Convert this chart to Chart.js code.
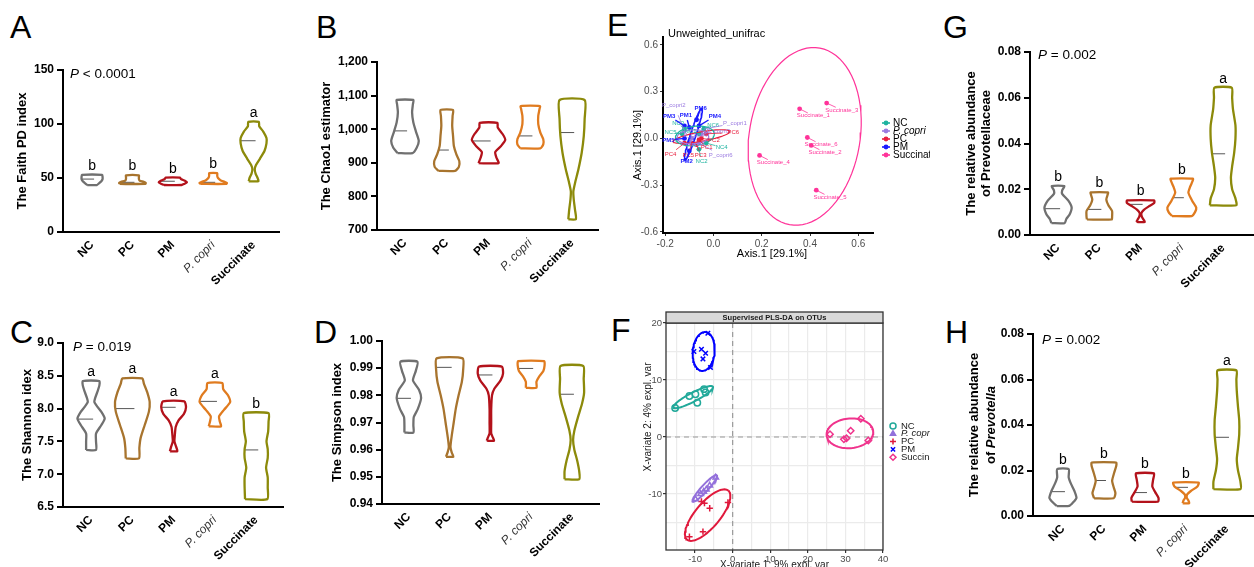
<!DOCTYPE html>
<html>
<head>
<meta charset="utf-8">
<script src="https://cdn.jsdelivr.net/npm/chart.js@4.4.0/dist/chart.umd.min.js"></script>
<style>
  body { margin: 0; background: #fff; width: 1254px; height: 567px; position: relative; overflow: hidden;
         font-family: 'Liberation Sans', Arial, sans-serif; }
  canvas { position: absolute; }
  .tag { position: absolute; font-size: 32px; line-height: 32px; color: #000; }
</style>
</head>
<body>
<div class="tag" style="left:10px;top:11px">A</div>
<div class="tag" style="left:316px;top:11px">B</div>
<div class="tag" style="left:607px;top:9px">E</div>
<div class="tag" style="left:943px;top:11px">G</div>
<div class="tag" style="left:10px;top:316px">C</div>
<div class="tag" style="left:314px;top:316px">D</div>
<div class="tag" style="left:611px;top:314px">F</div>
<div class="tag" style="left:945px;top:316px">H</div>

<canvas id="cA" width="300" height="290" style="left:0;top:0"></canvas>
<canvas id="cB" width="300" height="290" style="left:300px;top:0"></canvas>
<canvas id="cE" width="330" height="290" style="left:600px;top:0"></canvas>
<canvas id="cG" width="324" height="290" style="left:930px;top:0"></canvas>
<canvas id="cC" width="300" height="277" style="left:0;top:290px"></canvas>
<canvas id="cD" width="300" height="277" style="left:300px;top:290px"></canvas>
<canvas id="cF" width="330" height="277" style="left:600px;top:290px"></canvas>
<canvas id="cH" width="324" height="277" style="left:930px;top:290px"></canvas>

<script>
// ---- violin panels: groups, colours, profiles [value, half width in category units] ----
const groups = ['NC', 'PC', 'PM', 'P. copri', 'Succinate'];
const groupColors = ['#707070', '#a8742e', '#b3121b', '#e07b1f', '#8c8a0a'];

const faithTicks = [0, 50, 100, 150];
const faithTickLabels = ['0', '50', '100', '150'];
const faithNC = [[43.5, 0.12], [45, 0.17], [47, 0.23], [49, 0.26], [51, 0.26], [52.8, 0.25]];
const faithPC = [[44.5, 0.32], [45.5, 0.33], [46.5, 0.28], [47.5, 0.18], [49, 0.16], [51, 0.16], [52.5, 0.16]];
const faithPM = [[43.5, 0.22], [44.5, 0.28], [46, 0.35], [47.5, 0.3], [49, 0.2], [50.3, 0.18]];
const faithCopri = [[44.5, 0.32], [45.5, 0.34], [46.5, 0.28], [48, 0.18], [50, 0.12], [52, 0.1], [54.5, 0.1]];
const faithSucc = [[47, 0.12], [50, 0.1], [54, 0.05], [58, 0.03], [62, 0.06], [68, 0.16], [75, 0.27], [82, 0.32], [87, 0.32], [93, 0.24], [98, 0.14], [102, 0.13]];
const faithMedians = [49, 46, 47, 46, 84.5];
const faithLetters = ['b', 'b', 'b', 'b', 'a'];

const chaoTicks = [700, 800, 900, 1000, 1100, 1200];
const chaoTickLabels = ['700', '800', '900', '1,000', '1,100', '1,200'];
const chaoNC = [[929, 0.18], [945, 0.28], [965, 0.33], [990, 0.27], [1020, 0.2], [1050, 0.17], [1075, 0.19], [1087, 0.2]];
const chaoPC = [[876, 0.2], [888, 0.29], [905, 0.3], [925, 0.23], [950, 0.17], [980, 0.15], [1010, 0.13], [1040, 0.14], [1057, 0.15]];
const chaoPM = [[899, 0.24], [915, 0.19], [932, 0.16], [950, 0.3], [968, 0.4], [985, 0.34], [1005, 0.22], [1019, 0.21]];
const chaoCopri = [[943, 0.24], [955, 0.31], [970, 0.31], [990, 0.24], [1015, 0.19], [1040, 0.19], [1060, 0.22], [1069, 0.23]];
const chaoSucc = [[732, 0.09], [760, 0.07], [790, 0.04], [815, 0.03], [845, 0.08], [880, 0.15], [930, 0.23], [980, 0.28], [1030, 0.3], [1087, 0.3]];
const chaoMedians = [995, 938, 965, 980, 990];

const shannonTicks = [6.5, 7.0, 7.5, 8.0, 8.5, 9.0];
const shannonTickLabels = ['6.5', '7.0', '7.5', '8.0', '8.5', '9.0'];
const shannonNC = [[7.37, 0.12], [7.5, 0.12], [7.62, 0.12], [7.75, 0.25], [7.85, 0.33], [7.95, 0.25], [8.1, 0.08], [8.25, 0.15], [8.35, 0.2], [8.42, 0.2]];
const shannonPC = [[7.24, 0.16], [7.4, 0.17], [7.55, 0.2], [7.75, 0.3], [7.95, 0.4], [8.1, 0.42], [8.25, 0.36], [8.38, 0.28], [8.46, 0.24]];
const shannonPM = [[7.35, 0.09], [7.42, 0.06], [7.5, 0.02], [7.6, 0.03], [7.72, 0.05], [7.82, 0.12], [7.92, 0.25], [8.02, 0.3], [8.11, 0.26]];
const shannonCopri = [[7.73, 0.15], [7.8, 0.12], [7.88, 0.1], [7.98, 0.22], [8.1, 0.37], [8.2, 0.32], [8.3, 0.2], [8.39, 0.18]];
const shannonSucc = [[6.62, 0.27], [6.8, 0.28], [6.95, 0.28], [7.1, 0.24], [7.25, 0.28], [7.38, 0.28], [7.5, 0.25], [7.65, 0.29], [7.8, 0.3], [7.93, 0.3]];
const shannonMedians = [7.84, 8.0, 8.02, 8.11, 7.37];
const shannonLetters = ['a', 'a', 'a', 'a', 'b'];

const simpsonTicks = [0.94, 0.95, 0.96, 0.97, 0.98, 0.99, 1.0];
const simpsonTickLabels = ['0.94', '0.95', '0.96', '0.97', '0.98', '0.99', '1.00'];
const simpsonNC = [[0.9663, 0.11], [0.969, 0.11], [0.972, 0.12], [0.975, 0.22], [0.979, 0.3], [0.982, 0.25], [0.9855, 0.1], [0.989, 0.17], [0.9924, 0.21]];
const simpsonPC = [[0.9574, 0.09], [0.959, 0.05], [0.961, 0.02], [0.965, 0.05], [0.97, 0.1], [0.975, 0.15], [0.98, 0.22], [0.985, 0.3], [0.989, 0.33], [0.9936, 0.32]];
const simpsonPM = [[0.9633, 0.09], [0.9645, 0.06], [0.966, 0.02], [0.97, 0.02], [0.975, 0.02], [0.98, 0.04], [0.9825, 0.1], [0.9855, 0.25], [0.988, 0.31], [0.9906, 0.28]];
const simpsonCopri = [[0.9828, 0.13], [0.985, 0.13], [0.987, 0.2], [0.989, 0.3], [0.991, 0.33], [0.9926, 0.32]];
const simpsonSucc = [[0.9491, 0.18], [0.952, 0.18], [0.956, 0.13], [0.96, 0.06], [0.9636, 0.03], [0.967, 0.06], [0.972, 0.15], [0.977, 0.25], [0.981, 0.3], [0.986, 0.29], [0.9908, 0.28]];
const simpsonMedians = [0.9789, 0.9903, 0.9875, 0.9899, 0.9804];

const abundTicks = [0, 0.02, 0.04, 0.06, 0.08];
const abundTickLabels = ['0.00', '0.02', '0.04', '0.06', '0.08'];
const prevotellaceaeNC = [[0.0052, 0.16], [0.007, 0.2], [0.009, 0.28], [0.012, 0.33], [0.015, 0.25], [0.018, 0.1], [0.0195, 0.1], [0.0214, 0.15]];
const prevotellaceaePC = [[0.0068, 0.3], [0.008, 0.31], [0.0105, 0.31], [0.013, 0.22], [0.0155, 0.17], [0.0175, 0.2], [0.0186, 0.21]];
const prevotellaceaePM = [[0.0057, 0.1], [0.0068, 0.07], [0.008, 0.03], [0.0095, 0.02], [0.011, 0.08], [0.0125, 0.2], [0.014, 0.33], [0.0151, 0.33]];
const prevotellaceaeCopri = [[0.0083, 0.24], [0.01, 0.32], [0.012, 0.35], [0.015, 0.25], [0.0185, 0.16], [0.021, 0.2], [0.0235, 0.26], [0.0246, 0.27]];
const prevotellaceaeSucc = [[0.013, 0.32], [0.016, 0.3], [0.02, 0.22], [0.025, 0.19], [0.03, 0.22], [0.036, 0.27], [0.042, 0.3], [0.048, 0.3], [0.055, 0.24], [0.06, 0.22], [0.0644, 0.21]];
const prevotellaceaeMedians = [0.0115, 0.0112, 0.0134, 0.0163, 0.0355];

const prevotellaNC = [[0.0044, 0.15], [0.006, 0.25], [0.008, 0.33], [0.011, 0.28], [0.014, 0.2], [0.017, 0.14], [0.0206, 0.14]];
const prevotellaPC = [[0.0078, 0.24], [0.01, 0.28], [0.0125, 0.24], [0.0155, 0.2], [0.019, 0.25], [0.022, 0.3], [0.0235, 0.3]];
const prevotellaPM = [[0.0063, 0.32], [0.008, 0.33], [0.0105, 0.25], [0.013, 0.18], [0.016, 0.2], [0.0187, 0.22]];
const prevotellaCopri = [[0.0056, 0.08], [0.0068, 0.06], [0.008, 0.02], [0.0095, 0.03], [0.011, 0.12], [0.013, 0.28], [0.0147, 0.31]];
const prevotellaSucc = [[0.0118, 0.33], [0.015, 0.33], [0.02, 0.27], [0.025, 0.24], [0.03, 0.27], [0.036, 0.3], [0.042, 0.3], [0.048, 0.27], [0.055, 0.24], [0.06, 0.23], [0.064, 0.23]];
const prevotellaMedians = [0.0107, 0.0156, 0.0103, 0.0126, 0.0346];

// ---- PCoA (E) ----
const eGroups = ['NC', 'P. copri', 'PC', 'PM', 'Succinate'];
const eColors = ['#1fb3a0', '#9b7be0', '#e8203f', '#1a1aff', '#ff3399'];
const eXTicks = [-0.2, 0, 0.2, 0.4, 0.6];
const eYTicks = [-0.6, -0.3, 0, 0.3, 0.6];
const eNC = [[-0.06, 0.03], [-0.06, -0.07], [-0.12, 0.06], [-0.03, -0.03], [-0.13, 0.03], [-0.04, 0.06]];
const ePcopri = [[-0.04, 0.06], [-0.12, 0.05], [-0.05, 0.03], [-0.09, 0.0], [-0.1, -0.02], [-0.06, -0.03]];
const ePC = [[-0.06, -0.01], [-0.05, 0.0], [-0.07, -0.04], [-0.12, -0.03], [-0.09, -0.03], [-0.03, 0.03]];
const ePM = [[-0.1, 0.07], [-0.1, -0.08], [-0.12, 0.08], [-0.06, 0.08], [-0.12, 0.0], [-0.07, 0.12]];
const eSucc = [[0.357, 0.19], [0.405, -0.045], [0.469, 0.227], [0.191, -0.109], [0.426, -0.332], [0.389, 0.006]];
const eNCNames = ['NC1', 'NC2', 'NC3', 'NC4', 'NC5', 'NC6'];
const ePcopriNames = ['P_copri1', 'P_copri2', 'P_copri3', 'P_copri4', 'P_copri5', 'P_copri6'];
const ePCNames = ['PC1', 'PC2', 'PC3', 'PC4', 'PC5', 'PC6'];
const ePMNames = ['PM1', 'PM2', 'PM3', 'PM4', 'PM5', 'PM6'];
const eSuccNames = ['Succinate_1', 'Succinate_2', 'Succinate_3', 'Succinate_4', 'Succinate_5', 'Succinate_6'];
// where the repelled sample labels sit
const eNCLabelAt = [[-0.095, 0.045], [-0.049, -0.149], [-0.146, 0.098], [0.034, -0.057], [-0.178, 0.037], [-0.001, 0.087]];
const ePcopriLabelAt = [[0.089, 0.098], [-0.164, 0.215], [0.02, 0.044], [-0.075, 0.02], [-0.085, -0.04], [0.03, -0.106]];
const ePCLabelAt = [[-0.028, -0.057], [0.002, -0.01], [-0.053, -0.106], [-0.178, -0.101], [-0.104, -0.106], [0.082, 0.037]];
const ePMLabelAt = [[-0.114, 0.151], [-0.111, -0.149], [-0.183, 0.144], [0.006, 0.144], [-0.187, -0.01], [-0.053, 0.194]];
const eSuccLabelAt = [[0.414, 0.145], [0.462, -0.09], [0.532, 0.182], [0.248, -0.154], [0.483, -0.377], [0.446, -0.039]];
// confidence ellipses: centre x, y, then two conjugate half-axis vectors
const eNCEllipse = [-0.077, 0.016, 0.08, 0.02, 0.01, -0.06];
const ePcopriEllipse = [-0.085, 0.01, 0.066, 0.005, 0, 0.045];
const ePCEllipse = [-0.05, 0.012, 0.117, 0.032, 0.002, -0.03];
const ePMEllipse = [-0.083, 0.028, 0.035, 0.166, 0.012, -0.002];
const eSuccEllipse = [0.378, 0.013, 0.045, 0.57, 0.23, -0.02];

// ---- PLS-DA (F) ----
const fColors = ['#22a99a', '#9370db', '#e0193c', '#0000ff', '#f0338c'];
const fStyles = ['circle', 'triangle', 'cross', 'crossRot', 'rectRot'];
const fXTicks = [-10, 0, 10, 20, 30, 40];
const fYTicks = [-10, 0, 10, 20];
const fNC = [[-15.3, 5.1], [-11.5, 7.2], [-9.9, 7.5], [-9.4, 6.0], [-7.6, 8.4], [-7.2, 7.8]];
const fPcopri = [[-4.5, -7.1], [-6.1, -8.5], [-7.0, -9.2], [-7.7, -9.6], [-8.5, -10.0], [-9.9, -10.9]];
const fPC = [[-11.5, -17.5], [-7.9, -16.6], [-7.5, -11.6], [-8.3, -11.3], [-6.1, -12.5], [-1.25, -11.5]];
const fPM = [[-6.6, 18.2], [-10.3, 15.0], [-8.3, 15.4], [-7.2, 14.7], [-7.9, 13.7], [-5.9, 12.2]];
const fSucc = [[25.9, 0.5], [29.6, -0.4], [30.3, -0.2], [31.4, 1.1], [34.1, 3.2], [36.1, -0.6]];
const fNCEllipse = [-10.5, 7.0, 5.25, 1.82, 0.55, -0.68];
const fPcopriEllipse = [-7.4, -9.0, 3.2, 2.3, 0.65, -0.39];
const fPCEllipse = [-6.65, -13.7, 5.5, 4.3, 2.5, -1.4];
const fPMEllipse = [-7.7, 15.0, 0.5, 3.4, 2.9, -0.2];
const fSuccEllipse = [31.2, 0.65, 6.2, 0.3, -0.2, 2.6];

Chart.defaults.font.family = "'Liberation Sans', Arial, sans-serif";
Chart.defaults.color = '#000';
const FF = "'Liberation Sans', Arial, sans-serif";

function richText(ctx, parts, x, y, align) {
  let total = 0;
  parts.forEach(p => { ctx.font = p[1]; total += ctx.measureText(p[0]).width; });
  let cx = align === 'center' ? x - total / 2 : x;
  ctx.textAlign = 'left';
  parts.forEach(p => { ctx.font = p[1]; ctx.fillText(p[0], cx, y); cx += ctx.measureText(p[0]).width; });
}

function outline(i, prof) {
  const left = prof.map(([v, w]) => ({ x: i - w, y: v }));
  const right = prof.slice().reverse().map(([v, w]) => ({ x: i + w, y: v }));
  return [...left, ...right, left[0]];
}

function widthAt(prof, v) {
  for (let k = 1; k < prof.length; k++) {
    if (v <= prof[k][0]) {
      const [v0, w0] = prof[k - 1], [v1, w1] = prof[k];
      return w0 + (w1 - w0) * (v - v0) / (v1 - v0);
    }
  }
  return prof[prof.length - 1][1];
}

function ellipsePts(e) {
  const [cx, cy, ax, ay, bx, by] = e;
  const pts = [];
  for (let k = 0; k <= 80; k++) {
    const t = k / 80 * 2 * Math.PI;
    pts.push({ x: cx + ax * Math.cos(t) + bx * Math.sin(t), y: cy + ay * Math.cos(t) + by * Math.sin(t) });
  }
  return pts;
}

const toXY = arr => arr.map(([x, y]) => ({ x, y }));

function violinPanel(id, cfg) {
  const datasets = [];
  cfg.profiles.forEach((prof, i) => {
    datasets.push({ data: outline(i, prof), borderColor: groupColors[i], borderWidth: 2.3,
      showLine: true, pointRadius: 0, tension: 0.2, fill: false });
    const m = cfg.medians[i];
    datasets.push({ data: [{ x: i - widthAt(prof, m), y: m }, { x: i + 0.05, y: m }],
      borderColor: '#555', borderWidth: 1, showLine: true, pointRadius: 0 });
  });

  const deco = {
    id: 'deco',
    afterDraw(chart) {
      const ctx = chart.ctx, a = chart.chartArea, xs = chart.scales.x, ys = chart.scales.y;
      ctx.save();
      ctx.fillStyle = '#000';
      // y title
      const bold = 'bold 13px ' + FF;
      ctx.textBaseline = 'middle';
      cfg.yTitle.forEach((line, k) => {
        ctx.save();
        ctx.translate(cfg.yTitleX[k], (a.top + a.bottom) / 2);
        ctx.rotate(-Math.PI / 2);
        richText(ctx, line.map(p => [p[0], p[1] ? 'italic ' + bold : bold]), 0, 0, 'center');
        ctx.restore();
      });
      // significance letters
      if (cfg.letters) {
        ctx.font = '14px ' + FF;
        ctx.textAlign = 'center';
        ctx.textBaseline = 'alphabetic';
        cfg.letters.forEach((t, i) => {
          const prof = cfg.profiles[i];
          ctx.fillText(t, xs.getPixelForValue(i), ys.getPixelForValue(prof[prof.length - 1][0]) - 5);
        });
      }
      // P value
      if (cfg.pText) {
        ctx.textBaseline = 'middle';
        richText(ctx, [['P', 'italic 13.5px ' + FF], [cfg.pText, '13.5px ' + FF]],
          a.left + cfg.pAt[0], a.top + cfg.pAt[1], 'left');
      }
      ctx.restore();
    }
  };

  return new Chart(document.getElementById(id), {
    type: 'scatter',
    data: { datasets },
    options: {
      responsive: false, animation: false, events: [],
      layout: { padding: { left: 0, top: cfg.area.top, right: cfg.area.right, bottom: 0 } },
      plugins: { legend: { display: false }, tooltip: { enabled: false } },
      scales: {
        x: {
          type: 'linear', min: cfg.xRange[0], max: cfg.xRange[1],
          afterBuildTicks: s => { s.ticks = groups.map((g, i) => ({ value: i })); },
          afterFit: s => { s.height = cfg.area.xh; },
          grid: { display: false, drawTicks: false },
          border: { display: true, color: '#000', width: 2 },
          ticks: {
            autoSkip: false, maxRotation: 45, minRotation: 45, padding: 6,
            color: c => (c.index === 3 ? '#333' : '#000'),
            font: c => (c.index === 3 ? { size: 12, style: 'italic', weight: 'normal' } : { size: 12, weight: 'bold' }),
            callback: (v, i) => groups[i]
          }
        },
        y: {
          min: cfg.yRange[0], max: cfg.yRange[1],
          afterBuildTicks: s => { s.ticks = cfg.ticks.map(v => ({ value: v })); },
          afterFit: s => { s.width = cfg.area.left; },
          grid: { drawOnChartArea: false, drawTicks: true, tickLength: 6, color: '#000', lineWidth: 2 },
          border: { display: true, color: '#000', width: 2 },
          ticks: { padding: 3, color: '#000', font: { size: 12, weight: 'bold' }, callback: (v, i) => cfg.tickLabels[i] }
        }
      }
    },
    plugins: [deco]
  });
}

violinPanel('cA', {
  profiles: [faithNC, faithPC, faithPM, faithCopri, faithSucc], medians: faithMedians, letters: faithLetters,
  ticks: faithTicks, tickLabels: faithTickLabels, yRange: [0, 150], xRange: [-0.72, 4.63],
  area: { top: 70, right: 21, left: 63, xh: 58 },
  yTitle: [[['The Faith PD index']]], yTitleX: [22], pText: ' < 0.0001', pAt: [7, 4]
});
violinPanel('cB', {
  profiles: [chaoNC, chaoPC, chaoPM, chaoCopri, chaoSucc], medians: chaoMedians,
  ticks: chaoTicks, tickLabels: chaoTickLabels, yRange: [700, 1200], xRange: [-0.67, 4.62],
  area: { top: 62, right: 2, left: 77, xh: 60 },
  yTitle: [[['The Chao1 estimator']]], yTitleX: [26.5]
});
violinPanel('cC', {
  profiles: [shannonNC, shannonPC, shannonPM, shannonCopri, shannonSucc], medians: shannonMedians, letters: shannonLetters,
  ticks: shannonTicks, tickLabels: shannonTickLabels, yRange: [6.5, 9.0], xRange: [-0.68, 4.65],
  area: { top: 53, right: 17, left: 63, xh: 60 },
  yTitle: [[['The Shannon idex']]], yTitleX: [27], pText: ' = 0.019', pAt: [10, 4]
});
violinPanel('cD', {
  profiles: [simpsonNC, simpsonPC, simpsonPM, simpsonCopri, simpsonSucc], medians: simpsonMedians,
  ticks: simpsonTicks, tickLabels: simpsonTickLabels, yRange: [0.94, 1.0], xRange: [-0.66, 4.69],
  area: { top: 51, right: 0, left: 82, xh: 63 },
  yTitle: [[['The Simpson index']]], yTitleX: [37]
});
violinPanel('cG', {
  profiles: [prevotellaceaeNC, prevotellaceaePC, prevotellaceaePM, prevotellaceaeCopri, prevotellaceaeSucc],
  medians: prevotellaceaeMedians, letters: ['b', 'b', 'b', 'b', 'a'],
  ticks: abundTicks, tickLabels: abundTickLabels, yRange: [0, 0.08], xRange: [-0.68, 4.75],
  area: { top: 52, right: 0, left: 100, xh: 55 },
  yTitle: [[['The relative abundance']], [['of Prevotellaceae']]], yTitleX: [41.5, 56], pText: ' = 0.002', pAt: [8, 3]
});
violinPanel('cH', {
  profiles: [prevotellaNC, prevotellaPC, prevotellaPM, prevotellaCopri, prevotellaSucc],
  medians: prevotellaMedians, letters: ['b', 'b', 'b', 'b', 'a'],
  ticks: abundTicks, tickLabels: abundTickLabels, yRange: [0, 0.08], xRange: [-0.73, 4.66],
  area: { top: 44, right: 0, left: 103, xh: 51 },
  yTitle: [[['The relative abundance']], [['of '], ['Prevotella', true]]], yTitleX: [44.5, 61], pText: ' = 0.002', pAt: [9, 6]
});

// ---------- E: PCoA ----------
(function () {
  const pts = [eNC, ePcopri, ePC, ePM, eSucc];
  const names = [eNCNames, ePcopriNames, ePCNames, ePMNames, eSuccNames];
  const labelAt = [eNCLabelAt, ePcopriLabelAt, ePCLabelAt, ePMLabelAt, eSuccLabelAt];
  const ells = [eNCEllipse, ePcopriEllipse, ePCEllipse, ePMEllipse, eSuccEllipse];
  const datasets = [];
  ells.forEach((e, g) => datasets.push({ data: ellipsePts(e), showLine: true, pointRadius: 0,
    borderColor: eColors[g], borderWidth: g === 3 ? 1.6 : 1.2, tension: 0 }));
  pts.forEach((p, g) => datasets.push({ data: toXY(p), pointRadius: 2.4, pointBackgroundColor: eColors[g],
    pointBorderColor: eColors[g], pointBorderWidth: 0, showLine: false }));

  const deco = {
    id: 'decoE',
    afterDatasetsDraw(chart) {
      const ctx = chart.ctx, xs = chart.scales.x, ys = chart.scales.y;
      ctx.save();
      ctx.textAlign = 'center';
      ctx.textBaseline = 'middle';
      pts.forEach((p, g) => {
        p.forEach(([x, y], k) => {
          const [lx, ly] = labelAt[g][k];
          const px = xs.getPixelForValue(x), py = ys.getPixelForValue(y);
          const qx = xs.getPixelForValue(lx), qy = ys.getPixelForValue(ly);
          ctx.strokeStyle = eColors[g];
          ctx.lineWidth = g === 3 ? 1.4 : 0.8;
          ctx.beginPath();
          ctx.moveTo(px, py);
          ctx.lineTo(px + (qx - px) * 0.6, py + (qy - py) * 0.6);
          ctx.stroke();
          ctx.fillStyle = eColors[g];
          ctx.font = (g === 3 ? 'bold ' : '') + '6px ' + FF;
          ctx.fillText(names[g][k], qx, qy);
        });
      });
      ctx.restore();
    },
    afterDraw(chart) {
      const ctx = chart.ctx;
      ctx.save();
      ctx.fillStyle = '#000';
      ctx.textBaseline = 'alphabetic';
      ctx.textAlign = 'left';
      ctx.font = '11px ' + FF;
      ctx.fillText('Unweighted_unifrac', 68, 37);
      ctx.textAlign = 'center';
      ctx.fillText('Axis.1 [29.1%]', 172, 257);
      ctx.save();
      ctx.translate(38, 145);
      ctx.rotate(-Math.PI / 2);
      ctx.textBaseline = 'middle';
      ctx.fillText('Axis.1 [29.1%]', 0, 0);
      ctx.restore();
      // legend
      ctx.textBaseline = 'middle';
      eGroups.forEach((g, i) => {
        const y = 123 + i * 8;
        ctx.strokeStyle = eColors[i];
        ctx.fillStyle = eColors[i];
        ctx.lineWidth = 1.6;
        ctx.beginPath(); ctx.moveTo(282, y); ctx.lineTo(290, y); ctx.stroke();
        ctx.beginPath(); ctx.arc(286, y, 2.4, 0, 2 * Math.PI); ctx.fill();
        ctx.fillStyle = '#000';
        ctx.textAlign = 'left';
        ctx.font = (i === 1 ? 'italic ' : '') + '10px ' + FF;
        ctx.fillText(g, 293, y);
      });
      ctx.restore();
    }
  };

  new Chart(document.getElementById('cE'), {
    type: 'scatter',
    data: { datasets },
    options: {
      responsive: false, animation: false, events: [],
      layout: { padding: { left: 0, top: 37, right: 57, bottom: 0 } },
      plugins: { legend: { display: false }, tooltip: { enabled: false } },
      scales: {
        x: {
          type: 'linear', min: -0.209, max: 0.661,
          afterBuildTicks: s => { s.ticks = eXTicks.map(v => ({ value: v })); },
          afterFit: s => { s.height = 57; },
          grid: { drawOnChartArea: false, tickLength: 3, color: '#333', lineWidth: 1 },
          border: { display: true, color: '#000', width: 2 },
          ticks: { padding: 2, color: '#4d4d4d', font: { size: 10 }, callback: v => v.toFixed(1) }
        },
        y: {
          min: -0.607, max: 0.651,
          afterBuildTicks: s => { s.ticks = eYTicks.map(v => ({ value: v })); },
          afterFit: s => { s.width = 63; },
          grid: { drawOnChartArea: false, tickLength: 3, color: '#333', lineWidth: 1 },
          border: { display: true, color: '#000', width: 2 },
          ticks: { padding: 2, color: '#4d4d4d', font: { size: 10 }, callback: v => v.toFixed(1) }
        }
      }
    },
    plugins: [deco]
  });
})();

// ---------- F: PLS-DA ----------
(function () {
  const pts = [fNC, fPcopri, fPC, fPM, fSucc];
  const ells = [fNCEllipse, fPcopriEllipse, fPCEllipse, fPMEllipse, fSuccEllipse];
  const datasets = [];
  ells.forEach((e, g) => datasets.push({ data: ellipsePts(e), showLine: true, pointRadius: 0,
    borderColor: fColors[g], borderWidth: 2, tension: 0 }));
  pts.forEach((p, g) => datasets.push({ data: toXY(p), pointStyle: fStyles[g], pointRadius: 3.2,
    pointBorderColor: fColors[g], pointBackgroundColor: 'rgba(255,255,255,0)', pointBorderWidth: 1.5, showLine: false }));

  const fives = (lo, hi) => { const t = []; for (let v = Math.ceil(lo / 5) * 5; v <= hi; v += 5) t.push({ value: v }); return t; };

  const deco = {
    id: 'decoF',
    beforeDatasetsDraw(chart) {
      const ctx = chart.ctx, a = chart.chartArea, xs = chart.scales.x, ys = chart.scales.y;
      ctx.save();
      ctx.strokeStyle = '#999';
      ctx.lineWidth = 1.2;
      ctx.setLineDash([5, 4]);
      const x0 = xs.getPixelForValue(0), y0 = ys.getPixelForValue(0);
      ctx.beginPath(); ctx.moveTo(x0, a.top); ctx.lineTo(x0, a.bottom); ctx.stroke();
      ctx.beginPath(); ctx.moveTo(a.left, y0); ctx.lineTo(a.right, y0); ctx.stroke();
      ctx.restore();
    },
    afterDraw(chart) {
      const ctx = chart.ctx, a = chart.chartArea;
      ctx.save();
      ctx.strokeStyle = '#333';
      ctx.lineWidth = 1.3;
      ctx.strokeRect(a.left, a.top, a.right - a.left, a.bottom - a.top);
      // strip
      ctx.fillStyle = '#d9d9d9';
      ctx.fillRect(a.left, a.top - 11, a.right - a.left, 11);
      ctx.strokeRect(a.left, a.top - 11, a.right - a.left, 11);
      ctx.fillStyle = '#1a1a1a';
      ctx.font = 'bold 7.5px ' + FF;
      ctx.textAlign = 'center';
      ctx.textBaseline = 'middle';
      ctx.fillText('Supervised PLS-DA on OTUs', (a.left + a.right) / 2, a.top - 5.5);
      // axis titles
      ctx.font = '10px ' + FF;
      ctx.textBaseline = 'alphabetic';
      ctx.fillText('X-variate 1: 9% expl. var', (a.left + a.right) / 2, 278);
      ctx.save();
      ctx.translate(48, 127);
      ctx.rotate(-Math.PI / 2);
      ctx.textBaseline = 'middle';
      ctx.fillText('X-variate 2: 4% expl. var', 0, 0);
      ctx.restore();
      // legend
      eGroups.forEach((g, i) => {
        const y = 136 + i * 7.8;
        ctx.strokeStyle = fColors[i];
        ctx.fillStyle = i === 1 ? fColors[i] : 'rgba(255,255,255,0)';
        ctx.lineWidth = 1.5;
        Chart.helpers.drawPoint(ctx, { pointStyle: fStyles[i], radius: 3, borderWidth: 1.5, rotation: 0 }, 293, y);
        ctx.fillStyle = '#1a1a1a';
        ctx.textAlign = 'left';
        ctx.textBaseline = 'middle';
        ctx.font = (i === 1 ? 'italic ' : '') + '9.5px ' + FF;
        ctx.fillText(g, 301, y);
      });
      ctx.restore();
    }
  };

  new Chart(document.getElementById('cF'), {
    type: 'scatter',
    data: { datasets },
    options: {
      responsive: false, animation: false, events: [],
      layout: { padding: { left: 0, top: 33, right: 47, bottom: 0 } },
      plugins: { legend: { display: false }, tooltip: { enabled: false } },
      scales: {
        x: {
          type: 'linear', min: -17.73, max: 40,
          afterBuildTicks: s => { s.ticks = fives(s.min, s.max); },
          afterFit: s => { s.height = 17; },
          grid: { color: '#ebebeb', lineWidth: 1.2, tickLength: 3,
                  tickColor: c => (fXTicks.includes(c.tick && c.tick.value) ? '#333' : 'rgba(0,0,0,0)') },
          border: { display: false },
          ticks: { padding: 1, color: '#4d4d4d', font: { size: 9.5 }, autoSkip: false, maxRotation: 0,
                   callback: v => (fXTicks.includes(v) ? String(v) : '') }
        },
        y: {
          min: -19.82, max: 20,
          afterBuildTicks: s => { s.ticks = fives(s.min, s.max); },
          afterFit: s => { s.width = 66; },
          grid: { color: '#ebebeb', lineWidth: 1.2, tickLength: 3,
                  tickColor: c => (fYTicks.includes(c.tick && c.tick.value) ? '#333' : 'rgba(0,0,0,0)') },
          border: { display: false },
          ticks: { padding: 1, color: '#4d4d4d', font: { size: 9.5 }, autoSkip: false,
                   callback: v => (fYTicks.includes(v) ? String(v) : '') }
        }
      }
    },
    plugins: [deco]
  });
})();
</script>
</body>
</html>
